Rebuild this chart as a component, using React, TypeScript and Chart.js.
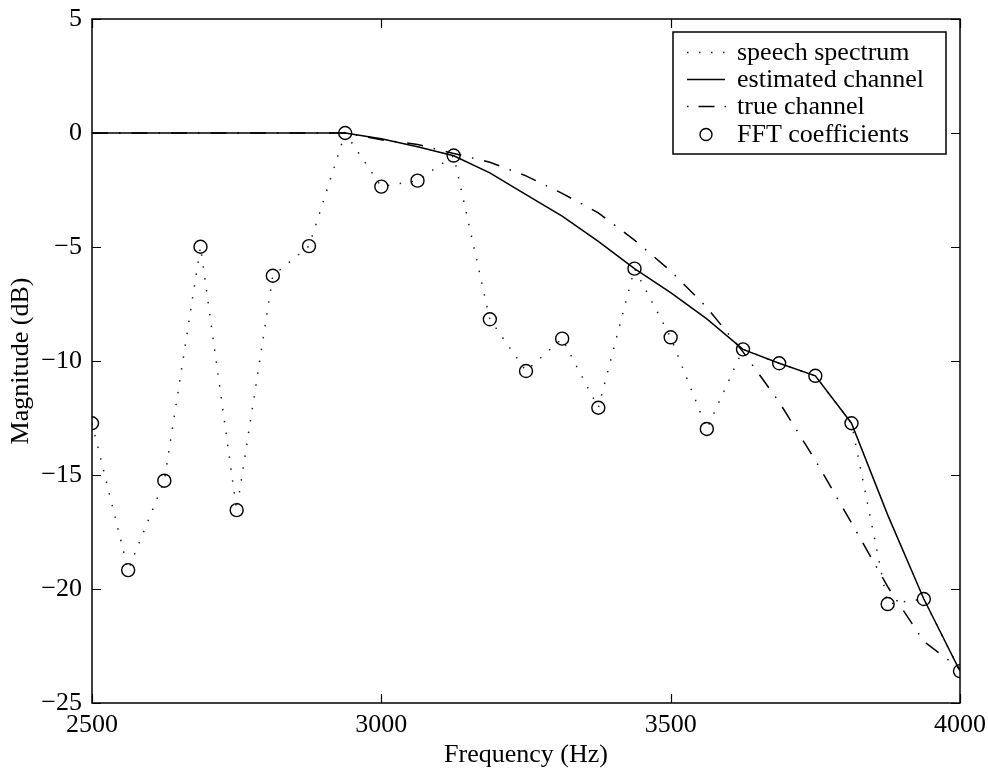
import React, { useEffect, useRef } from 'react';
import { Chart, registerables } from 'chart.js';

Chart.register(...registerables);

const frequencies = [2500, 2562.5, 2625, 2687.5, 2750, 2812.5, 2875, 2937.5, 3000, 3062.5, 3125, 3187.5, 3250, 3312.5, 3375, 3437.5, 3500, 3562.5, 3625, 3687.5, 3750, 3812.5, 3875, 3937.5, 4000];
const fftCoefficients = [-12.73, -19.17, -15.25, -4.99, -16.54, -6.26, -4.96, 0, -2.35, -2.09, -0.99, -8.17, -10.44, -9.02, -12.05, -5.95, -8.96, -12.98, -9.49, -10.1, -10.65, -12.73, -20.66, -20.44, -23.6];
const estimatedChannel = [0, 0, 0, 0, 0, 0, 0, 0, -0.25, -0.6, -1.0, -1.75, -2.7, -3.65, -4.75, -5.95, -7.0, -8.15, -9.49, -10.1, -10.65, -12.73, -16.75, -20.44, -23.6];
const trueChannel = [0, 0, 0, 0, 0, 0, 0, 0, -0.3, -0.5, -0.9, -1.28, -1.88, -2.65, -3.5, -4.7, -6.05, -7.65, -9.6, -11.8, -14.35, -17.1, -19.9, -22.3, -23.5];
const seriesLabels = ['speech spectrum', 'estimated channel', 'true channel', 'FFT coefficients'];
const xTicks = [2500, 3000, 3500, 4000];
const yTicks = [5, 0, -5, -10, -15, -20, -25];
const xTitle = 'Frequency (Hz)';
const yTitle = 'Magnitude (dB)';

const FONT = '"Liberation Serif", "Times New Roman", Times, serif';

const toPoints = (ys: number[]) => frequencies.map((f, i) => ({ x: f, y: ys[i] }));
const fmt = (v: number) => (v < 0 ? '\u2212' + Math.abs(v) : String(v));

const framePlugin = {
  id: 'matlabFrame',
  afterDraw(chart: any) {
    const { ctx, chartArea: a, scales } = chart;
    const xs = scales.x;
    const ys = scales.y;
    ctx.save();
    ctx.strokeStyle = '#000';
    ctx.lineWidth = 1.5;
    ctx.setLineDash([]);
    ctx.strokeRect(a.left, a.top, a.right - a.left, a.bottom - a.top);
    const tl = 9;
    ctx.beginPath();
    for (const v of xTicks) {
      const px = Math.round(xs.getPixelForValue(v)) + 0.5;
      ctx.moveTo(px, a.bottom);
      ctx.lineTo(px, a.bottom - tl);
      ctx.moveTo(px, a.top);
      ctx.lineTo(px, a.top + tl);
    }
    for (const v of yTicks) {
      const py = Math.round(ys.getPixelForValue(v)) + 0.5;
      ctx.moveTo(a.left, py);
      ctx.lineTo(a.left + tl, py);
      ctx.moveTo(a.right, py);
      ctx.lineTo(a.right - tl, py);
    }
    ctx.lineWidth = 1.2;
    ctx.stroke();

    // legend
    const bw = 273;
    const bh = 122;
    const bx = a.right - 14 - bw;
    const by = a.top + 13;
    ctx.fillStyle = '#fff';
    ctx.fillRect(bx, by, bw, bh);
    ctx.lineWidth = 1.5;
    ctx.strokeStyle = '#000';
    ctx.strokeRect(bx, by, bw, bh);
    const rowY = [by + 20, by + 47, by + 74, by + 102];
    const sx0 = bx + 14;
    const sx1 = bx + 52;
    const tx = bx + 64;
    ctx.font = `26px ${FONT}`;
    ctx.textBaseline = 'middle';
    ctx.textAlign = 'left';
    ctx.fillStyle = '#000';
    const labels = chart.data.datasets.map((d: any) => d.label);
    labels.forEach((lab: string, i: number) => {
      const yy = Math.round(rowY[i]) + 0.5;
      ctx.beginPath();
      if (i === 0) {
        ctx.setLineDash([1.5, 10.5]);
        ctx.lineWidth = 1.5;
        ctx.strokeStyle = '#222';
        ctx.moveTo(sx0, yy);
        ctx.lineTo(sx1, yy);
        ctx.stroke();
      } else if (i === 1) {
        ctx.setLineDash([]);
        ctx.lineWidth = 1.5;
        ctx.strokeStyle = '#000';
        ctx.moveTo(sx0, yy);
        ctx.lineTo(sx1, yy);
        ctx.stroke();
      } else if (i === 2) {
        ctx.setLineDash([1.5, 10, 16, 10]);
        ctx.lineWidth = 1.5;
        ctx.strokeStyle = '#000';
        ctx.moveTo(sx0, yy);
        ctx.lineTo(sx1 + 1, yy);
        ctx.stroke();
      } else {
        ctx.setLineDash([]);
        ctx.lineWidth = 1.4;
        ctx.strokeStyle = '#000';
        ctx.arc((sx0 + sx1) / 2, yy, 6, 0, Math.PI * 2);
        ctx.stroke();
      }
      ctx.fillText(lab, tx, rowY[i] + 1);
    });
    ctx.restore();
  },
};

export default function App() {
  const canvasRef = useRef<HTMLCanvasElement | null>(null);

  useEffect(() => {
    document.body.style.margin = '0';
    const canvas = canvasRef.current;
    if (!canvas) return;
    Chart.defaults.font.family = FONT;
    Chart.defaults.color = '#000';
    const chart = new Chart(canvas, {
      type: 'scatter',
      data: {
        datasets: [
          {
            label: seriesLabels[0],
            data: toPoints(fftCoefficients),
            showLine: true,
            borderColor: '#222',
            borderWidth: 1.5,
            borderDash: [1.5, 10.5],
            pointRadius: 0,
            fill: false,
            order: 4,
          },
          {
            label: seriesLabels[1],
            data: toPoints(estimatedChannel),
            showLine: true,
            borderColor: '#000',
            borderWidth: 1.5,
            pointRadius: 0,
            fill: false,
            order: 2,
          },
          {
            label: seriesLabels[2],
            data: toPoints(trueChannel),
            showLine: true,
            borderColor: '#000',
            borderWidth: 1.5,
            borderDash: [16, 11, 1.5, 11],
            pointRadius: 0,
            fill: false,
            order: 3,
          },
          {
            label: seriesLabels[3],
            data: toPoints(fftCoefficients),
            showLine: false,
            borderColor: '#000',
            backgroundColor: 'rgba(0,0,0,0)',
            borderWidth: 1.4,
            pointRadius: 6.5,
            pointStyle: 'circle',
            order: 1,
          },
        ],
      },
      options: {
        responsive: false,
        animation: false,
        devicePixelRatio: 1,
        layout: { padding: { left: 0, top: 19, right: 28, bottom: 0 } },
        plugins: {
          legend: { display: false },
          tooltip: { enabled: false },
        },
        scales: {
          x: {
            type: 'linear',
            min: 2500,
            max: 4000,
            afterBuildTicks: (s: any) => {
              s.ticks = xTicks.map((v) => ({ value: v }));
            },
            afterFit: (s: any) => {
              s.height = 67;
              s.paddingLeft = 0;
              s.paddingRight = 0;
            },
            ticks: {
              font: { size: 26, family: FONT },
              color: '#000',
              padding: 7,
              maxRotation: 0,
              autoSkip: false,
              callback: (v: any) => fmt(Number(v)),
            },
            grid: { display: false, drawTicks: false },
            border: { display: false },
            title: {
              display: true,
              text: xTitle,
              font: { size: 26, family: FONT },
              color: '#000',
              padding: { top: 0, bottom: -1 },
            },
          },
          y: {
            type: 'linear',
            min: -25,
            max: 5,
            afterBuildTicks: (s: any) => {
              s.ticks = yTicks.map((v) => ({ value: v }));
            },
            afterFit: (s: any) => {
              s.width = 92;
              s.paddingTop = 0;
              s.paddingBottom = 0;
            },
            ticks: {
              font: { size: 26, family: FONT },
              color: '#000',
              padding: 10,
              autoSkip: false,
              callback: (v: any) => fmt(Number(v)),
            },
            grid: { display: false, drawTicks: false },
            border: { display: false },
            title: {
              display: true,
              text: yTitle,
              font: { size: 26, family: FONT },
              color: '#000',
              padding: { top: 6, bottom: 0 },
            },
          },
        },
      },
      plugins: [framePlugin],
    } as any);
    return () => chart.destroy();
  }, []);

  return (
    <div style={{ width: 988, height: 770, background: '#fff' }}>
      <canvas ref={canvasRef} width={988} height={770} style={{ display: 'block' }} />
    </div>
  );
}
